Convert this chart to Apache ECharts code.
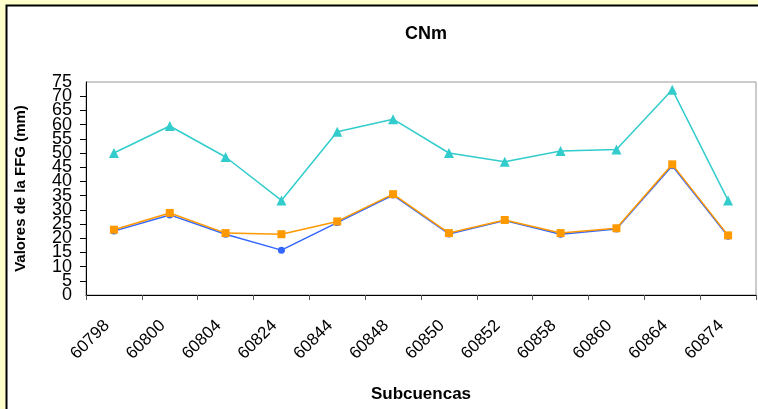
<!DOCTYPE html>
<html>
<head>
<meta charset="utf-8">
<script src="https://cdn.jsdelivr.net/npm/echarts@6/dist/echarts.min.js"></script>
<style>
html,body{margin:0;padding:0;background:#FFFFCC;}
#chart{width:758px;height:409px;}
</style>
</head>
<body>
<div id="chart"></div>
<script>
const categories = ['60798','60800','60804','60824','60844','60848','60850','60852','60858','60860','60864','60874'];
const serieAzul = [22.5, 28.2, 21.4, 15.8, 25.5, 35.2, 21.5, 26.2, 21.4, 23.2, 45.5, 20.7];
const serieNaranja = [23.0, 28.9, 21.8, 21.4, 25.9, 35.5, 21.8, 26.4, 21.8, 23.5, 46.0, 21.0];
const serieCian = [50, 59.5, 48.6, 33.3, 57.5, 61.9, 50, 46.9, 50.7, 51.2, 72.3, 33.3];
const yMin = 0, yMax = 75, yStep = 5;

const FONT = 'Liberation Sans, Arial, sans-serif';
const yLabelStyle = {margin: 14, fontFamily: FONT, fontSize: 18, color: '#000'};
const chart = echarts.init(document.getElementById('chart'), null, {renderer: 'canvas'});
chart.setOption({
  backgroundColor: '#FFFFCC',
  animation: false,
  textStyle: {fontFamily: FONT},
  graphic: [{
    type: 'rect', z: -10, silent: true,
    shape: {x: 6.5, y: 5.5, width: 800, height: 500},
    style: {fill: '#ffffff', stroke: '#000000', lineWidth: 2}
  }],
  title: {
    text: 'CNm', left: 421, top: 20, textAlign: 'center',
    textStyle: {fontFamily: FONT, fontSize: 18, fontWeight: 'bold', color: '#000'}
  },
  grid: {
    left: 86, right: 2, top: 82, bottom: 114,
    show: true, borderColor: '#999999', borderWidth: 1, backgroundColor: '#ffffff'
  },
  xAxis: {
    type: 'category', data: categories, boundaryGap: true,
    name: 'Subcuencas', nameLocation: 'middle', nameGap: 91,
    nameTextStyle: {fontFamily: FONT, fontSize: 17, fontWeight: 'bold', color: '#000'},
    axisLine: {lineStyle: {color: '#000', width: 1}},
    axisTick: {show: true, length: 5, alignWithLabel: false, lineStyle: {color: '#555'}},
    axisLabel: {rotate: 45, margin: 21, padding: [0, 10, 0, 0], fontFamily: FONT, fontSize: 17, color: '#000', interval: 0},
    splitLine: {show: false}
  },
  yAxis: [{
    type: 'value', position: 'left', offset: 0, min: yMin, max: yMax, interval: yStep,
    name: 'Valores de la FFG (mm)', nameLocation: 'middle', nameGap: 58, nameRotate: 90,
    nameTextStyle: {fontFamily: FONT, fontSize: 15, fontWeight: 'bold', color: '#000'},
    axisLine: {show: true, lineStyle: {color: '#000', width: 1}},
    axisTick: {show: true, length: 6, lineStyle: {color: '#000'}},
    axisLabel: Object.assign({showMinLabel: false, showMaxLabel: false}, yLabelStyle),
    splitLine: {show: false}
  }, {
    type: 'value', position: 'left', offset: 0, min: yMin, max: yMax, interval: yStep,
    axisLine: {show: false}, axisTick: {show: false}, splitLine: {show: false},
    axisLabel: Object.assign({showMinLabel: true, showMaxLabel: true,
      formatter: v => (v === yMin || v === yMax) ? String(v) : ''}, yLabelStyle)
  }],
  series: [
    {name: 'Serie azul', type: 'line', data: serieAzul, symbol: 'circle', symbolSize: 7,
     itemStyle: {color: '#3366FF'}, lineStyle: {color: '#3366FF', width: 1.5}, z: 2},
    {name: 'Serie naranja', type: 'line', data: serieNaranja, symbol: 'rect', symbolSize: 8,
     itemStyle: {color: '#FF9900'}, lineStyle: {color: '#FF9900', width: 1.5}, z: 3},
    {name: 'Serie cian', type: 'line', data: serieCian, symbol: 'triangle', symbolSize: 10,
     itemStyle: {color: '#33CCCC'}, lineStyle: {color: '#33CCCC', width: 1.5}, z: 4}
  ]
});
</script>
</body>
</html>
